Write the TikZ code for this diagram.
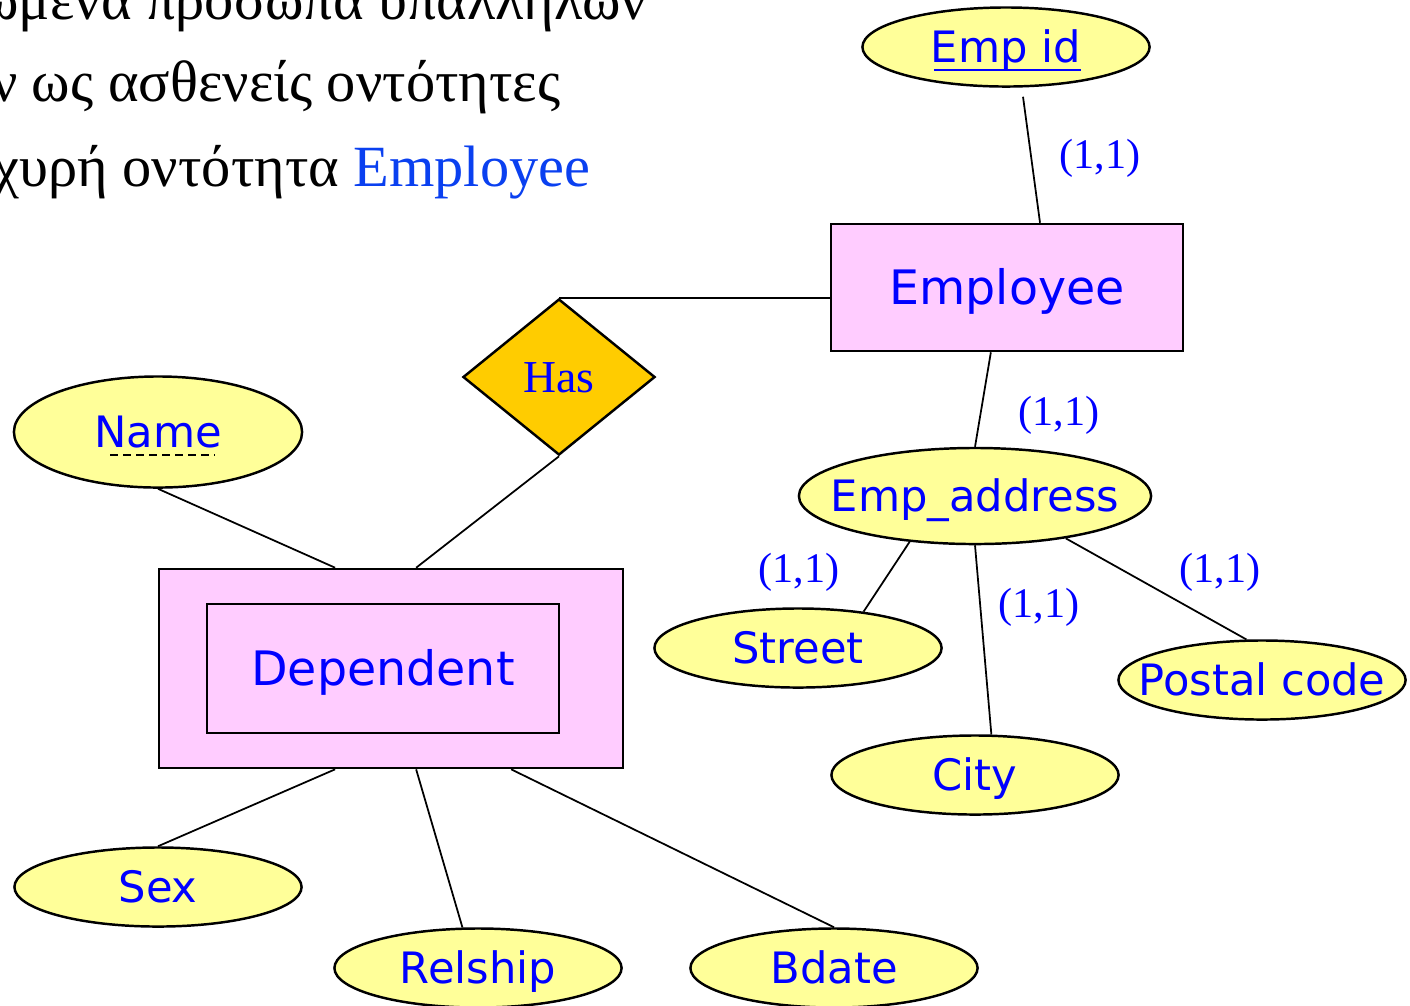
\documentclass[tikz,border=0pt]{standalone}
\usepackage{fontspec}
\setmainfont{Liberation Serif}
\newfontfamily\attrfont{DejaVu Sans}
\usetikzlibrary{shapes.geometric}

\definecolor{attrfill}{HTML}{FFFF99}
\definecolor{entfill}{HTML}{FFCCFF}
\definecolor{relfill}{HTML}{FFCC00}
\definecolor{titleblue}{HTML}{0A40F0}

\newcommand{\attrlbl}[1]{\makebox[0pt]{#1}}

\begin{document}
\begin{tikzpicture}[x=0.01cm,y=-0.01cm]

      \useasboundingbox (0,0) rectangle (1410,1005);

      \begin{scope}[every node/.style={anchor=base east,inner sep=0pt,font=\fontsize{16.6}{20}\selectfont}]
        \node (t1) at (648,19)  {ώμενα πρόσωπα υπαλλήλων};
        \node (t2) at (561,101) {ν ως ασθενείς οντότητες};
        \node (t3) at (591,186) {χυρή οντότητα \textcolor{titleblue}{Employee}};
      \end{scope}

      \begin{scope}[every node/.style={draw,line width=0.7pt,fill=entfill,inner sep=0pt,text=blue,
          text height=9.8pt,text depth=0pt,font=\attrfont\fontsize{13.5}{16}\selectfont}]
        \node[minimum width=3.52cm,minimum height=1.27cm] (emp)   at (1007,287.5) {Employee};
        \node[minimum width=4.64cm,minimum height=1.99cm] (dep)   at (391,668.5)  {};
        \node[minimum width=3.52cm,minimum height=1.29cm] (depin) at (383,668.5)  {Dependent};
      \end{scope}

      \node[diamond,draw,line width=0.7pt,fill=relfill,inner sep=0pt,aspect=1.23,
        minimum width=1.92cm,minimum height=1.56cm,text=blue,text height=8.6pt,text depth=0pt,
        font=\fontsize{13}{15}\selectfont] (has) at (559,377) {Has};

      \begin{scope}[every node/.style={ellipse,draw,line width=0.7pt,fill=attrfill,inner sep=0pt,
          minimum width=2.87cm,minimum height=0.79cm,text=blue,text height=9pt,text depth=0pt,
          font=\attrfont\fontsize{12.3}{14}\selectfont}]
        \node (eid) at (1006,47) {\attrlbl{Emp id}};
        \node[minimum width=2.88cm,minimum height=1.11cm] (nm) at (158,432) {\attrlbl{Name}};
        \node[minimum width=3.52cm,minimum height=0.96cm] (ead) at (975,496) {\attrlbl{Emp\_address}};
        \node (st) at (798,648)  {\attrlbl{Street}};
        \node (ct) at (975,775)  {\attrlbl{City}};
        \node (pc) at (1262,680) {\attrlbl{Postal code}};
        \node (sx) at (158,887)  {\attrlbl{Sex}};
        \node (rs) at (478,968)  {\attrlbl{Relship}};
        \node (bd) at (834,968)  {\attrlbl{Bdate}};
      \end{scope}

      % key underlines
      \draw[line width=0.6pt,blue] ([shift={(-72,23)}]eid.center) -- ([shift={(75,23)}]eid.center);
      \draw[line width=0.6pt,dash pattern=on 2.3pt off 1.4pt] ([shift={(-48,23)}]nm.center) -- ([shift={(57,23)}]nm.center);

      \begin{scope}[every node/.style={text=blue,inner sep=0pt,font=\fontsize{12}{14}\selectfont}]
        \node (c1) at (1100,158) {(1,1)};
        \node (c2) at (1059,415) {(1,1)};
        \node (c3) at (799,572)  {(1,1)};
        \node (c4) at (1039,607) {(1,1)};
        \node (c5) at (1220,572) {(1,1)};
      \end{scope}

      \begin{scope}[every edge/.style={draw,line width=0.5pt}]
        \path ([shift={(17,9)}]eid.south) edge (emp.63);
        \path (has.north) edge (has.north -| emp.west);
        \path (has.south) edge (dep.76);
        \path (nm.south)  edge (dep.119);
        \path (emp.256)   edge (ead.north);
        \path (ead.215)   edge (st.29);
        \path (ead.south) edge (ct.68);
        \path (ead.-25)   edge (pc.111);
        \path (dep.241)   edge (sx.north);
        \path (dep.284)   edge (rs.111);
        \path (dep.320)   edge (bd.north);
      \end{scope}

    \end{tikzpicture}
\end{document}
